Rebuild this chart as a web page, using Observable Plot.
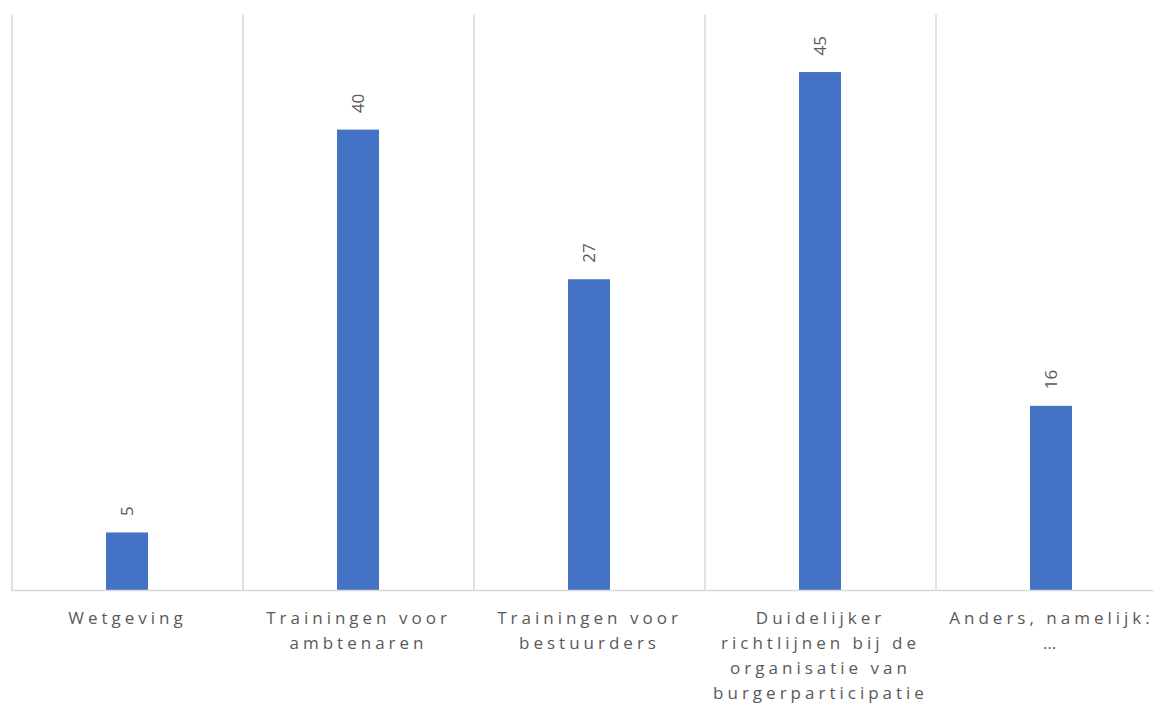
<!DOCTYPE html>
<html>
<head>
<meta charset="utf-8">
<script src="https://cdn.jsdelivr.net/npm/d3@7"></script>
<script src="https://cdn.jsdelivr.net/npm/@observablehq/plot@0.6"></script>
<style>
  body { margin: 0; background: #fff; }
  #chart svg { display: block; }
  #chart g[aria-label="x-axis tick label"] text { letter-spacing: 4px; }
</style>
</head>
<body>
<div id="chart"></div>
<script>
const categories = [
  "Wetgeving",
  "Trainingen voor ambtenaren",
  "Trainingen voor bestuurders",
  "Duidelijker richtlijnen bij de organisatie van burgerparticipatie",
  "Anders, namelijk: …"
];
const tickLabels = [
  "Wetgeving",
  "Trainingen voor\nambtenaren",
  "Trainingen voor\nbestuurders",
  "Duidelijker\nrichtlijnen bij de\norganisatie van\nburgerparticipatie",
  "Anders, namelijk:\n…"
];
const values = [5, 40, 27, 45, 16];

const data = categories.map((c, i) => ({category: c, value: values[i]}));

const xRange = [11.5, 1166.5];
const step = (xRange[1] - xRange[0]) / categories.length;

const chart = Plot.plot({
  width: 1154,
  height: 706,
  marginLeft: 11,
  marginRight: 0,
  marginTop: 14,
  marginBottom: 116,
  style: {fontFamily: "'Open Sans', sans-serif", color: "#595959", background: "#fff"},
  x: {domain: categories, range: xRange, paddingInner: 0.82, paddingOuter: 0.41, label: null},
  y: {domain: [0, 50], range: [590, 14.5], axis: null},
  marks: [
    Plot.ruleX(categories, {x: d => d, dx: -step / 2, y1: 0, y2: 50, stroke: "#d9d9d9", strokeWidth: 1.5}),
    Plot.barY(data, {x: "category", y: "value", fill: "#4472C4"}),
    Plot.ruleY([0], {stroke: "#d9d9d9", strokeWidth: 1.5}),
    Plot.text(data, {x: "category", y: "value", text: d => String(d.value), rotate: -90,
      textAnchor: "start", lineAnchor: "middle", dy: -17, fontSize: 17, fill: "#595959"}),
    Plot.axisX({tickSize: 0, tickPadding: 16, fontSize: 17, lineHeight: 1.47,
      tickFormat: (d, i) => tickLabels[categories.indexOf(d)], fill: "#595959", label: null})
  ]
});
document.getElementById("chart").appendChild(chart);
</script>
</body>
</html>
